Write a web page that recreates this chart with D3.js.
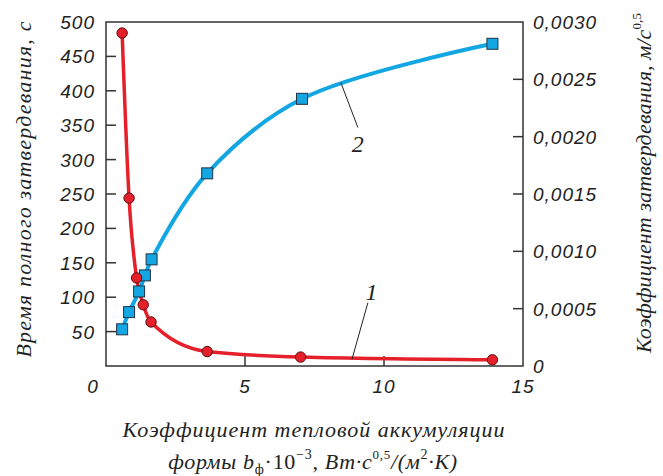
<!DOCTYPE html>
<html>
<head>
<meta charset="utf-8">
<script src="https://cdn.jsdelivr.net/npm/d3@7"></script>
<style>
  body { margin: 0; background: #fff; }
</style>
</head>
<body>
<svg width="663" height="476"></svg>
<script>
// кривая 1 - время полного затвердевания, с
var bf1 = [0.58, 0.83, 1.10, 1.34, 1.62, 3.64, 7.0, 13.9];
var timeFull = [484, 244, 128, 89, 64, 21, 13, 9];
// кривая 2 - коэффициент затвердевания, м/с^0,5
var bf2 = [0.58, 0.83, 1.19, 1.40, 1.64, 3.64, 7.05, 13.9];
var kSolid = [0.00032, 0.00047, 0.00065, 0.00079, 0.00093, 0.00168, 0.00233, 0.00281];

var xTicks = [0, 5, 10, 15];
var leftTicks = [50, 100, 150, 200, 250, 300, 350, 400, 450, 500];
var rightTicks = [0, 0.0005, 0.0010, 0.0015, 0.0020, 0.0025, 0.0030];

var svg = d3.select("svg");
var m = {left: 106, top: 22, right: 140, bottom: 110};
var w = 663 - m.left - m.right,
    h = 476 - m.top - m.bottom;

var x = d3.scaleLinear().domain([0, 15]).range([m.left, m.left + w]);
var yL = d3.scaleLinear().domain([0, 500]).range([m.top + h, m.top]);
var yR = d3.scaleLinear().domain([0, 0.003]).range([m.top + h, m.top]);

var axCol = "#333";
var serif = "'Liberation Serif', 'Times New Roman', serif";
var sans = "'Liberation Sans', Arial, sans-serif";

// подписи делений - курсив без засечек
function tickText(sel) {
  sel.attr("font-family", sans).attr("font-style", "italic").attr("font-size", 19)
    .attr("letter-spacing", 1).attr("fill", "#222");
}
// курсив с засечками
function serifText(sel) {
  sel.attr("font-family", serif).attr("font-style", "italic").attr("font-size", 22).attr("fill", "#222");
}
// подгонка ширины строки под оригинал
function fit(sel, target) {
  var len = sel.node().getComputedTextLength();
  var n = sel.node().textContent.length;
  sel.attr("letter-spacing", (target - len) / (n - 1));
}

// рамка
svg.append("rect")
  .attr("x", m.left).attr("y", m.top).attr("width", w).attr("height", h)
  .attr("fill", "none").attr("stroke", axCol).attr("stroke-width", 1.5);

// деления внутрь
svg.selectAll(".tl").data(leftTicks.filter(function(d){ return d < 500; })).enter().append("line")
  .attr("x1", m.left).attr("x2", m.left + 10)
  .attr("y1", function(d){ return yL(d); }).attr("y2", function(d){ return yL(d); })
  .attr("stroke", axCol).attr("stroke-width", 1.5);
svg.selectAll(".tr").data(rightTicks.filter(function(d){ return d > 0 && d < 0.003; })).enter().append("line")
  .attr("x1", m.left + w - 10).attr("x2", m.left + w)
  .attr("y1", function(d){ return yR(d); }).attr("y2", function(d){ return yR(d); })
  .attr("stroke", axCol).attr("stroke-width", 1.5);
svg.selectAll(".tb").data(xTicks.filter(function(d){ return d > 0 && d < 15; })).enter().append("line")
  .attr("x1", function(d){ return x(d); }).attr("x2", function(d){ return x(d); })
  .attr("y1", m.top + h - 10).attr("y2", m.top + h)
  .attr("stroke", axCol).attr("stroke-width", 1.5);

// подписи делений
svg.selectAll(".ll").data(leftTicks).enter().append("text")
  .call(tickText).attr("text-anchor", "end")
  .attr("x", 95).attr("y", function(d){ return yL(d) + 7; })
  .text(function(d){ return d; });
var fmtR = function(d){ return d === 0 ? "0" : d3.format(".4f")(d).replace(".", ","); };
svg.selectAll(".rl").data(rightTicks).enter().append("text")
  .call(tickText).attr("text-anchor", "start")
  .attr("x", 533).attr("y", function(d){ return yR(d) + 7; })
  .text(fmtR);
svg.selectAll(".bl").data(xTicks).enter().append("text")
  .call(tickText).attr("text-anchor", "middle")
  .attr("x", function(d){ return d === 0 ? x(d) - 13 : x(d); }).attr("y", 393)
  .text(function(d){ return d; });

// кривые
var red = "#e5202b", blue = "#12a6e2";
var pts1 = bf1.map(function(d, i){ return [x(d), yL(timeFull[i])]; });
var pts2 = bf2.map(function(d, i){ return [x(d), yR(kSolid[i])]; });
var line1 = d3.line().curve(d3.curveMonotoneX);
var line2 = d3.line().curve(d3.curveCatmullRom.alpha(0.5));

svg.append("path").attr("d", line2(pts2)).attr("fill", "none")
  .attr("stroke", blue).attr("stroke-width", 4);
svg.append("path").attr("d", line1(pts1)).attr("fill", "none")
  .attr("stroke", red).attr("stroke-width", 3.5);

svg.selectAll(".sq").data(pts2).enter().append("rect")
  .attr("x", function(d){ return d[0] - 5.5; }).attr("y", function(d){ return d[1] - 5.5; })
  .attr("width", 11).attr("height", 11)
  .attr("fill", blue).attr("stroke", "#234").attr("stroke-width", 1);
svg.selectAll(".ci").data(pts1).enter().append("circle")
  .attr("cx", function(d){ return d[0]; }).attr("cy", function(d){ return d[1]; })
  .attr("r", 5.2)
  .attr("fill", red).attr("stroke", "#5a1010").attr("stroke-width", 1);

// выноски
svg.append("line")
  .attr("x1", x(8.45)).attr("y1", yR(0.00247)).attr("x2", x(9.06)).attr("y2", yR(0.00208))
  .attr("stroke", "#222").attr("stroke-width", 1);
svg.append("text").call(serifText).attr("font-size", 24).attr("text-anchor", "middle")
  .attr("x", x(9.06)).attr("y", yR(0.00187)).text("2");
svg.append("line")
  .attr("x1", x(9.42)).attr("y1", yL(92)).attr("x2", x(8.85)).attr("y2", yL(10))
  .attr("stroke", "#222").attr("stroke-width", 1);
svg.append("text").call(serifText).attr("font-size", 24).attr("text-anchor", "middle")
  .attr("x", x(9.55)).attr("y", yL(96)).text("1");

// названия осей
svg.append("text").call(serifText).attr("text-anchor", "middle")
  .attr("transform", "translate(31,189) rotate(-90)")
  .text("Время полного затвердевания, с")
  .call(fit, 336);

var rt = svg.append("text").call(serifText).attr("text-anchor", "middle")
  .attr("transform", "translate(651,183) rotate(-90)");
rt.append("tspan").text("Коэффициент затвердевания, м/с");
rt.append("tspan").attr("dy", -10).attr("font-size", 13).attr("font-style", "normal").text("0,5");
rt.call(fit, 340);

svg.append("text").call(serifText).attr("text-anchor", "middle")
  .attr("x", 314).attr("y", 437)
  .text("Коэффициент тепловой аккумуляции")
  .call(fit, 382);

var bt = svg.append("text").call(serifText).attr("text-anchor", "middle")
  .attr("x", 313).attr("y", 469);
bt.append("tspan").text("формы b");
bt.append("tspan").attr("dy", 5).attr("font-size", 14).attr("font-style", "normal").text("ф");
bt.append("tspan").attr("dy", -5).attr("font-style", "normal").text("·10");
bt.append("tspan").attr("dy", -10).attr("font-size", 14).attr("font-style", "normal").text("−3");
bt.append("tspan").attr("dy", 10).text(", Вт·с");
bt.append("tspan").attr("dy", -10).attr("font-size", 13).attr("font-style", "normal").text("0,5");
bt.append("tspan").attr("dy", 10).text("/(м");
bt.append("tspan").attr("dy", -10).attr("font-size", 14).attr("font-style", "normal").text("2");
bt.append("tspan").attr("dy", 10).text("·К)");
bt.call(fit, 289);
</script>
</body>
</html>
